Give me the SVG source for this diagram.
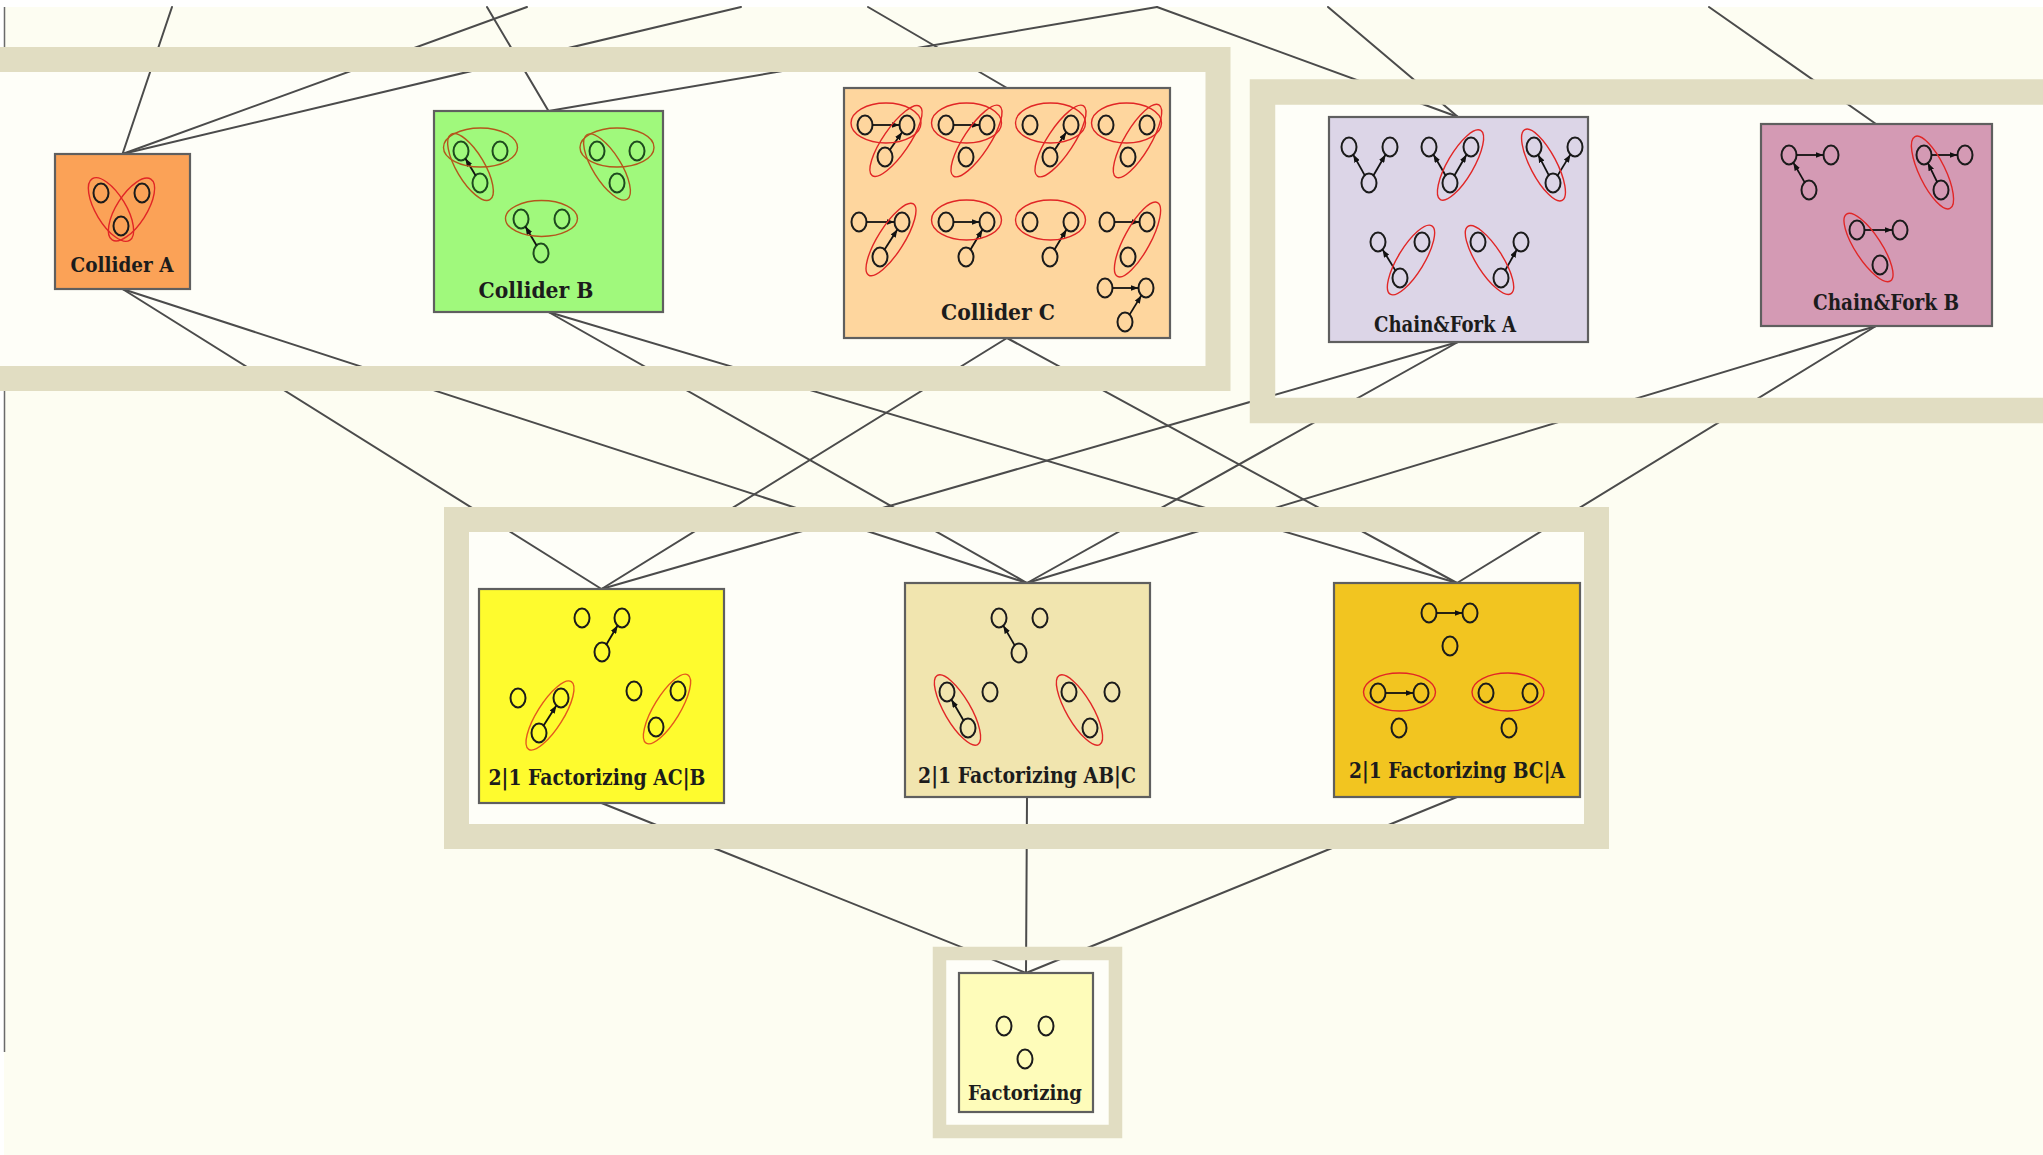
<svg xmlns="http://www.w3.org/2000/svg" xmlns:xlink="http://www.w3.org/1999/xlink" width="2043" height="1155" viewBox="0 0 2043 1155">
  <defs>
    <style>
      .paper { fill: #FDFDF2; }
      .panel-fill { fill: #FEFEF8; stroke: none; }
      .band { fill: none; stroke: #E1DDC2; }
      .lnk { stroke: #4b4b4b; stroke-width: 2; fill: none; stroke-linecap: round; }
      .box { stroke: #5f5f5f; stroke-width: 2.2; }
      .o { stroke: #1b1b1b; fill: none; }
      .r { fill: none; stroke: #E12626; stroke-width: 1.4; }
      .a { stroke: #111; stroke-width: 1.8; fill: none; marker-end: url(#ah); }
      .lbl { font-family: "DejaVu Serif Condensed", "DejaVu Serif", "Liberation Serif", serif; font-weight: bold; fill: #1c1c1c; text-anchor: middle; }
      #collider-b .o { stroke: #1E4A1E; }
      #collider-b .r { stroke: #B4561C; }
      #fact-ac-b .r { stroke: #E4581E; }
    </style>
    <ellipse id="dot" cx="0" cy="0" rx="7.5" ry="9.5" stroke-width="2"/>
    <marker id="ah" viewBox="0 0 8 6" refX="8" refY="3" markerWidth="8" markerHeight="6" markerUnits="userSpaceOnUse" orient="auto">
      <path d="M0,0 L8,3 L0,6 z" fill="#111"/>
    </marker>
  </defs>

  <!-- page -->
  <rect x="0" y="0" width="2043" height="1155" fill="#FFFFFF"/>
  <rect class="paper" x="4" y="7" width="2039" height="1148"/>
  <line x1="4.5" y1="7" x2="4.5" y2="1052" stroke="#6a6a6a" stroke-width="1.5"/>

  <!-- panel interiors -->
  <g id="panel-fills">
    <rect class="panel-fill" x="-30" y="72" width="1236" height="294"/>
    <rect class="panel-fill" x="1275" y="105" width="800" height="293"/>
    <rect class="panel-fill" x="469" y="532" width="1115" height="292"/>
    <rect class="panel-fill" x="946" y="960" width="162" height="165"/>
  </g>

  <!-- connectors -->
  <g id="connectors">
    <!-- from the level above -->
    <line class="lnk" x1="172" y1="7" x2="122.5" y2="154"/>
    <line class="lnk" x1="527" y1="7" x2="122.5" y2="154"/>
    <line class="lnk" x1="741" y1="7" x2="122.5" y2="154"/>
    <line class="lnk" x1="487" y1="7" x2="548.5" y2="111"/>
    <line class="lnk" x1="1157" y1="7" x2="548.5" y2="111"/>
    <line class="lnk" x1="868" y1="7" x2="1007" y2="88"/>
    <line class="lnk" x1="1157" y1="7" x2="1458" y2="117"/>
    <line class="lnk" x1="1328" y1="7" x2="1458" y2="117"/>
    <line class="lnk" x1="1709" y1="7" x2="1876" y2="124"/>
    <!-- colliders / chains to 2|1 factorizing -->
    <line class="lnk" x1="122.5" y1="289" x2="601.5" y2="589"/>
    <line class="lnk" x1="122.5" y1="289" x2="1027" y2="583"/>
    <line class="lnk" x1="548.5" y1="312" x2="1027" y2="583"/>
    <line class="lnk" x1="548.5" y1="312" x2="1457" y2="583"/>
    <line class="lnk" x1="1007" y1="338" x2="601.5" y2="589"/>
    <line class="lnk" x1="1007" y1="338" x2="1457" y2="583"/>
    <line class="lnk" x1="1458" y1="342" x2="601.5" y2="589"/>
    <line class="lnk" x1="1458" y1="342" x2="1027" y2="583"/>
    <line class="lnk" x1="1876" y1="326" x2="1027" y2="583"/>
    <line class="lnk" x1="1876" y1="326" x2="1457" y2="583"/>
    <!-- 2|1 factorizing to factorizing -->
    <line class="lnk" x1="601.5" y1="803" x2="1026" y2="973"/>
    <line class="lnk" x1="1027" y1="797" x2="1026" y2="973"/>
    <line class="lnk" x1="1457" y1="797" x2="1026" y2="973"/>
  </g>

  <!-- level panels -->
  <g id="panels">
    <rect class="band" x="-30" y="59.5" width="1248" height="319" stroke-width="25"/>
    <rect class="band" x="1262.5" y="92" width="820" height="318.5" stroke-width="25.5"/>
    <rect class="band" x="456.5" y="519.5" width="1140" height="317" stroke-width="25"/>
    <rect class="band" x="939.5" y="953.5" width="176" height="178" stroke-width="13.5"/>
  </g>

  <!-- Collider A -->
  <g id="collider-a">
    <rect class="box" x="55" y="154" width="135" height="135" fill="#FBA257"/>
    <g class="o">
      <use xlink:href="#dot" x="101" y="193"/>
      <use xlink:href="#dot" x="142" y="193"/>
      <use xlink:href="#dot" x="121" y="226"/>
    </g>
    <ellipse class="r" cx="111" cy="209.5" rx="36" ry="15" transform="rotate(58.8 111 209.5)"/>
    <ellipse class="r" cx="131.5" cy="209.5" rx="36" ry="15" transform="rotate(-57.5 131.5 209.5)"/>
    <text class="lbl" x="122" y="272" font-size="20.5" textLength="103" lengthAdjust="spacingAndGlyphs">Collider A</text>
  </g>

  <!-- Collider B -->
  <g id="collider-b">
    <rect class="box" x="434" y="111" width="229" height="201" fill="#A0F97C"/>
    <g class="o">
      <use xlink:href="#dot" x="461" y="151"/>
      <use xlink:href="#dot" x="500" y="151"/>
      <use xlink:href="#dot" x="480" y="183"/>
      <use xlink:href="#dot" x="597" y="151"/>
      <use xlink:href="#dot" x="637" y="151"/>
      <use xlink:href="#dot" x="617" y="183"/>
      <use xlink:href="#dot" x="521" y="219"/>
      <use xlink:href="#dot" x="562" y="219"/>
      <use xlink:href="#dot" x="541" y="253"/>
    </g>
    <line class="a" x1="475.6" y1="175.5" x2="465.4" y2="158.5"/>
    <line class="a" x1="536.6" y1="245.5" x2="525.4" y2="226.5"/>
    <ellipse class="r" cx="480.5" cy="147.5" rx="37" ry="19.5"/>
    <ellipse class="r" cx="470.5" cy="167" rx="38" ry="14" transform="rotate(59.3 470.5 167)"/>
    <ellipse class="r" cx="617" cy="147.5" rx="37" ry="19.5"/>
    <ellipse class="r" cx="607" cy="167" rx="38" ry="14" transform="rotate(58 607 167)"/>
    <ellipse class="r" cx="541.5" cy="218.5" rx="36" ry="18"/>
    <text class="lbl" x="536" y="298" font-size="23" textLength="115" lengthAdjust="spacingAndGlyphs">Collider B</text>
  </g>

  <!-- Collider C -->
  <g id="collider-c">
    <rect class="box" x="844" y="88" width="326" height="250" fill="#FED69E"/>
    <g class="o">
      <use xlink:href="#dot" x="865" y="125"/>
      <use xlink:href="#dot" x="907" y="125"/>
      <use xlink:href="#dot" x="885" y="157"/>
      <use xlink:href="#dot" x="946" y="125"/>
      <use xlink:href="#dot" x="987" y="125"/>
      <use xlink:href="#dot" x="966" y="157"/>
      <use xlink:href="#dot" x="1030" y="125"/>
      <use xlink:href="#dot" x="1071" y="125"/>
      <use xlink:href="#dot" x="1050" y="157"/>
      <use xlink:href="#dot" x="1106" y="125"/>
      <use xlink:href="#dot" x="1147" y="125"/>
      <use xlink:href="#dot" x="1128" y="157"/>
      <use xlink:href="#dot" x="859" y="222"/>
      <use xlink:href="#dot" x="902" y="222"/>
      <use xlink:href="#dot" x="880" y="257"/>
      <use xlink:href="#dot" x="946" y="222"/>
      <use xlink:href="#dot" x="987" y="222"/>
      <use xlink:href="#dot" x="966" y="257"/>
      <use xlink:href="#dot" x="1030" y="222"/>
      <use xlink:href="#dot" x="1071" y="222"/>
      <use xlink:href="#dot" x="1050" y="257"/>
      <use xlink:href="#dot" x="1107" y="222"/>
      <use xlink:href="#dot" x="1147" y="222"/>
      <use xlink:href="#dot" x="1128" y="257"/>
      <use xlink:href="#dot" x="1105" y="288"/>
      <use xlink:href="#dot" x="1146" y="288"/>
      <use xlink:href="#dot" x="1125" y="322"/>
    </g>
    <line class="a" x1="872.5" y1="125" x2="899.5" y2="125"/>
    <line class="a" x1="889.9" y1="149.8" x2="902.1" y2="132.2"/>
    <line class="a" x1="953.5" y1="125" x2="979.5" y2="125"/>
    <line class="a" x1="1054.8" y1="149.7" x2="1066.2" y2="132.3"/>
    <line class="a" x1="866.5" y1="222" x2="894.5" y2="222"/>
    <line class="a" x1="884.6" y1="249.6" x2="897.4" y2="229.4"/>
    <line class="a" x1="953.5" y1="222" x2="979.5" y2="222"/>
    <line class="a" x1="970.5" y1="249.5" x2="982.5" y2="229.5"/>
    <line class="a" x1="1054.5" y1="249.5" x2="1066.5" y2="229.5"/>
    <line class="a" x1="1114.5" y1="222" x2="1139.5" y2="222"/>
    <line class="a" x1="1112.5" y1="288" x2="1138.5" y2="288"/>
    <line class="a" x1="1129.6" y1="314.6" x2="1141.4" y2="295.4"/>
    <ellipse class="r" cx="886" cy="123" rx="35" ry="20"/>
    <ellipse class="r" cx="966.5" cy="123" rx="35" ry="20"/>
    <ellipse class="r" cx="1050.5" cy="123" rx="35" ry="20"/>
    <ellipse class="r" cx="1126.5" cy="123" rx="35" ry="20"/>
    <ellipse class="r" cx="966.5" cy="220" rx="35" ry="20"/>
    <ellipse class="r" cx="1050.5" cy="220" rx="35" ry="20"/>
    <ellipse class="r" cx="896" cy="141" rx="42" ry="13" transform="rotate(-55.5 896 141)"/>
    <ellipse class="r" cx="976.5" cy="141" rx="42" ry="13" transform="rotate(-56.7 976.5 141)"/>
    <ellipse class="r" cx="1060.5" cy="141" rx="42" ry="13" transform="rotate(-56.7 1060.5 141)"/>
    <ellipse class="r" cx="1137.5" cy="141" rx="42" ry="13" transform="rotate(-59.3 1137.5 141)"/>
    <ellipse class="r" cx="891" cy="239.5" rx="42" ry="13" transform="rotate(-57.8 891 239.5)"/>
    <ellipse class="r" cx="1137.5" cy="239.5" rx="42" ry="13" transform="rotate(-61.5 1137.5 239.5)"/>
    <text class="lbl" x="998" y="320" font-size="23" textLength="114" lengthAdjust="spacingAndGlyphs">Collider C</text>
  </g>

  <!-- Chain&Fork A -->
  <g id="chain-fork-a">
    <rect class="box" x="1329" y="117" width="259" height="225" fill="#DCD5E7"/>
    <g class="o">
      <use xlink:href="#dot" x="1349" y="147"/>
      <use xlink:href="#dot" x="1390" y="147"/>
      <use xlink:href="#dot" x="1369" y="183"/>
      <use xlink:href="#dot" x="1429" y="147"/>
      <use xlink:href="#dot" x="1471" y="147"/>
      <use xlink:href="#dot" x="1450" y="183"/>
      <use xlink:href="#dot" x="1534" y="147"/>
      <use xlink:href="#dot" x="1575" y="147"/>
      <use xlink:href="#dot" x="1553" y="183"/>
      <use xlink:href="#dot" x="1378" y="242"/>
      <use xlink:href="#dot" x="1422" y="242"/>
      <use xlink:href="#dot" x="1400" y="278"/>
      <use xlink:href="#dot" x="1478" y="242"/>
      <use xlink:href="#dot" x="1521" y="242"/>
      <use xlink:href="#dot" x="1501" y="278"/>
    </g>
    <line class="a" x1="1364.8" y1="175.4" x2="1353.2" y2="154.6"/>
    <line class="a" x1="1373.4" y1="175.5" x2="1385.6" y2="154.5"/>
    <line class="a" x1="1445.6" y1="175.5" x2="1433.4" y2="154.5"/>
    <line class="a" x1="1454.4" y1="175.5" x2="1466.6" y2="154.5"/>
    <line class="a" x1="1548.9" y1="175.3" x2="1538.1" y2="154.7"/>
    <line class="a" x1="1557.5" y1="175.6" x2="1570.5" y2="154.4"/>
    <line class="a" x1="1395.5" y1="270.6" x2="1382.5" y2="249.4"/>
    <line class="a" x1="1505.2" y1="270.4" x2="1516.8" y2="249.6"/>
    <ellipse class="r" cx="1460.5" cy="165" rx="40" ry="13" transform="rotate(-59.7 1460.5 165)"/>
    <ellipse class="r" cx="1543.5" cy="165" rx="40" ry="13" transform="rotate(62.2 1543.5 165)"/>
    <ellipse class="r" cx="1411" cy="260" rx="40" ry="13" transform="rotate(-58.6 1411 260)"/>
    <ellipse class="r" cx="1489.5" cy="260" rx="40" ry="13" transform="rotate(57.4 1489.5 260)"/>
    <text class="lbl" x="1445" y="332" font-size="23" textLength="142" lengthAdjust="spacingAndGlyphs">Chain&amp;Fork A</text>
  </g>

  <!-- Chain&Fork B -->
  <g id="chain-fork-b">
    <rect class="box" x="1761" y="124" width="231" height="202" fill="#D49AB4"/>
    <g class="o">
      <use xlink:href="#dot" x="1789" y="155"/>
      <use xlink:href="#dot" x="1831" y="155"/>
      <use xlink:href="#dot" x="1809" y="190"/>
      <use xlink:href="#dot" x="1924" y="155"/>
      <use xlink:href="#dot" x="1965" y="155"/>
      <use xlink:href="#dot" x="1941" y="190"/>
      <use xlink:href="#dot" x="1857" y="230"/>
      <use xlink:href="#dot" x="1900" y="230"/>
      <use xlink:href="#dot" x="1880" y="265"/>
    </g>
    <line class="a" x1="1796.5" y1="155" x2="1823.5" y2="155"/>
    <line class="a" x1="1804.7" y1="182.4" x2="1793.3" y2="162.6"/>
    <line class="a" x1="1931.5" y1="155" x2="1957.5" y2="155"/>
    <line class="a" x1="1937.2" y1="182.2" x2="1927.8" y2="162.8"/>
    <line class="a" x1="1864.5" y1="230" x2="1892.5" y2="230"/>
    <ellipse class="r" cx="1932.5" cy="172.5" rx="40" ry="13" transform="rotate(64 1932.5 172.5)"/>
    <ellipse class="r" cx="1868.5" cy="247.5" rx="40" ry="13" transform="rotate(56.7 1868.5 247.5)"/>
    <text class="lbl" x="1886" y="310" font-size="22" textLength="146" lengthAdjust="spacingAndGlyphs">Chain&amp;Fork B</text>
  </g>

  <!-- 2|1 Factorizing AC|B -->
  <g id="fact-ac-b">
    <rect class="box" x="479" y="589" width="245" height="214" fill="#FEFB2E"/>
    <g class="o">
      <use xlink:href="#dot" x="582" y="618"/>
      <use xlink:href="#dot" x="622" y="618"/>
      <use xlink:href="#dot" x="602" y="652"/>
      <use xlink:href="#dot" x="518" y="698"/>
      <use xlink:href="#dot" x="561" y="698"/>
      <use xlink:href="#dot" x="539" y="733"/>
      <use xlink:href="#dot" x="634" y="691"/>
      <use xlink:href="#dot" x="678" y="691"/>
      <use xlink:href="#dot" x="656" y="727"/>
    </g>
    <line class="a" x1="606.4" y1="644.5" x2="617.6" y2="625.5"/>
    <line class="a" x1="543.6" y1="725.6" x2="556.4" y2="705.4"/>
    <ellipse class="r" cx="550" cy="715.5" rx="40" ry="13" transform="rotate(-57.8 550 715.5)"/>
    <ellipse class="r" cx="667" cy="709" rx="40" ry="13" transform="rotate(-58.6 667 709)"/>
    <text class="lbl" x="597" y="785" font-size="21.5" textLength="217" lengthAdjust="spacingAndGlyphs">2|1 Factorizing AC|B</text>
  </g>

  <!-- 2|1 Factorizing AB|C -->
  <g id="fact-ab-c">
    <rect class="box" x="905" y="583" width="245" height="214" fill="#F1E5AF"/>
    <g class="o">
      <use xlink:href="#dot" x="999" y="618"/>
      <use xlink:href="#dot" x="1040" y="618"/>
      <use xlink:href="#dot" x="1019" y="653"/>
      <use xlink:href="#dot" x="947" y="692"/>
      <use xlink:href="#dot" x="990" y="692"/>
      <use xlink:href="#dot" x="968" y="728"/>
      <use xlink:href="#dot" x="1069" y="692"/>
      <use xlink:href="#dot" x="1112" y="692"/>
      <use xlink:href="#dot" x="1090" y="728"/>
    </g>
    <line class="a" x1="1014.7" y1="645.4" x2="1003.3" y2="625.6"/>
    <line class="a" x1="963.6" y1="720.5" x2="951.4" y2="699.5"/>
    <ellipse class="r" cx="957.5" cy="710" rx="40" ry="13" transform="rotate(59.7 957.5 710)"/>
    <ellipse class="r" cx="1079.5" cy="710" rx="40" ry="13" transform="rotate(59.7 1079.5 710)"/>
    <text class="lbl" x="1027" y="783" font-size="21.5" textLength="218" lengthAdjust="spacingAndGlyphs">2|1 Factorizing AB|C</text>
  </g>

  <!-- 2|1 Factorizing BC|A -->
  <g id="fact-bc-a">
    <rect class="box" x="1334" y="583" width="246" height="214" fill="#F2C520"/>
    <g class="o">
      <use xlink:href="#dot" x="1429" y="613"/>
      <use xlink:href="#dot" x="1470" y="613"/>
      <use xlink:href="#dot" x="1450" y="646"/>
      <use xlink:href="#dot" x="1378" y="693"/>
      <use xlink:href="#dot" x="1421" y="693"/>
      <use xlink:href="#dot" x="1399" y="728"/>
      <use xlink:href="#dot" x="1486" y="693"/>
      <use xlink:href="#dot" x="1530" y="693"/>
      <use xlink:href="#dot" x="1509" y="728"/>
    </g>
    <line class="a" x1="1436.5" y1="613" x2="1462.5" y2="613"/>
    <line class="a" x1="1385.5" y1="693" x2="1413.5" y2="693"/>
    <ellipse class="r" cx="1399.5" cy="692" rx="36" ry="19"/>
    <ellipse class="r" cx="1508" cy="692" rx="36" ry="19"/>
    <text class="lbl" x="1457" y="778" font-size="21.5" textLength="216" lengthAdjust="spacingAndGlyphs">2|1 Factorizing BC|A</text>
  </g>

  <!-- Factorizing -->
  <g id="factorizing">
    <rect class="box" x="959" y="973" width="134" height="139" fill="#FEFCBA"/>
    <g class="o">
      <use xlink:href="#dot" x="1004" y="1026"/>
      <use xlink:href="#dot" x="1046" y="1026"/>
      <use xlink:href="#dot" x="1025" y="1059"/>
    </g>
    <text class="lbl" x="1025" y="1100" font-size="19.5" textLength="114" lengthAdjust="spacingAndGlyphs">Factorizing</text>
  </g>
</svg>
